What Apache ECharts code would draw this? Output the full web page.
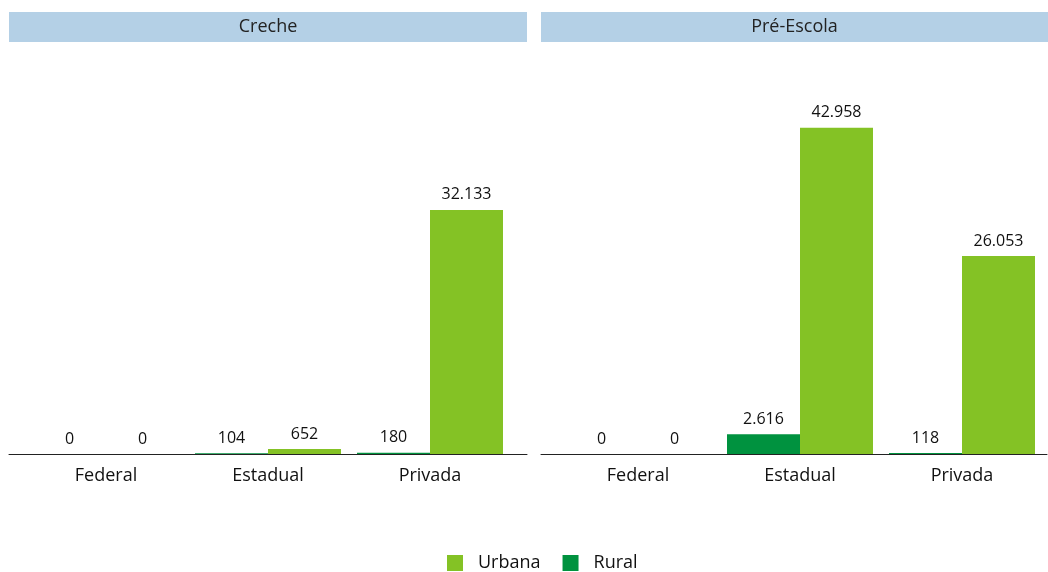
<!DOCTYPE html>
<html>
<head>
<meta charset="utf-8">
<script src="https://cdn.jsdelivr.net/npm/echarts@6/dist/echarts.min.js"></script>
<style>
  html, body { margin: 0; padding: 0; background: #fff; }
  #main { width: 1048px; height: 572px; }
</style>
</head>
<body>
<div id="main"></div>
<script>
// dados
var categorias = ["Federal", "Estadual", "Privada"];
var paineis = ["Creche", "Pré-Escola"];
var crecheRural = [0, 104, 180];
var crecheUrbana = [0, 652, 32133];
var preRural = [0, 2616, 118];
var preUrbana = [0, 42958, 26053];

var corUrbana = "#84c225";
var corRural = "#00923f";
var fonte = "'Open Sans', sans-serif";

var myChart = echarts.init(document.getElementById("main"));

function fmt(v) {
  return String(v).replace(/\B(?=(\d{3})+(?!\d))/g, ".");
}

var rotulo = {
  show: true,
  position: "top",
  distance: 7,
  color: "#111",
  fontSize: 16,
  fontFamily: fonte,
  formatter: function (p) { return fmt(p.value); }
};

function serie(nome, dados, idx, cor) {
  return {
    name: nome,
    type: "bar",
    xAxisIndex: idx,
    yAxisIndex: idx,
    data: dados,
    barWidth: 73,
    barGap: "0%",
    itemStyle: { color: cor },
    label: rotulo,
    emphasis: { disabled: true }
  };
}

var topo = 59, altura = 395;

// faixas de titulo dos paineis
var faixas = [
  { x: 9, w: 518, txt: paineis[0] },
  { x: 541, w: 507, txt: paineis[1] }
];
var graficos = [];
faixas.forEach(function (f) {
  graficos.push({
    type: "rect",
    shape: { x: f.x, y: 12, width: f.w, height: 30 },
    style: { fill: "#b4d0e6" },
    silent: true
  });
  graficos.push({
    type: "text",
    x: f.x + f.w / 2,
    y: 27,
    style: {
      text: f.txt, fill: "#222", font: "18px " + fonte,
      textAlign: "center", textVerticalAlign: "middle"
    },
    silent: true
  });
});

var eixoCat = function (g) {
  return {
    type: "category", gridIndex: g, data: categorias,
    axisLine: { show: false }, axisTick: { show: false },
    axisLabel: { color: "#111", fontSize: 18, fontFamily: fonte, margin: 13 }
  };
};
var eixoVal = function (g) {
  return {
    type: "value", gridIndex: g, min: 0, max: 52000,
    show: false, splitLine: { show: false }
  };
};
// eixos só para a linha de base mais larga
var eixoBase = function (g) {
  return {
    type: "value", gridIndex: g, min: 0, max: 1,
    axisLine: { show: true, lineStyle: { color: "#222", width: 1 } },
    axisTick: { show: false }, axisLabel: { show: false }, splitLine: { show: false }
  };
};

myChart.setOption({
  animation: false,
  textStyle: { fontFamily: fonte },
  grid: [
    { left: 25, width: 486, top: topo, height: altura },
    { left: 557, width: 486, top: topo, height: altura },
    { left: 9, width: 518, top: topo, height: altura },
    { left: 541, width: 506, top: topo, height: altura }
  ],
  xAxis: [eixoCat(0), eixoCat(1), eixoBase(2), eixoBase(3)],
  yAxis: [eixoVal(0), eixoVal(1),
    { type: "value", gridIndex: 2, show: false },
    { type: "value", gridIndex: 3, show: false }],
  legend: {
    data: ["Urbana", "Rural"],
    left: 447,
    top: 554,
    padding: 0,
    itemWidth: 16,
    itemHeight: 16,
    itemGap: 22,
    icon: "rect",
    textStyle: { color: "#111", fontSize: 18, fontFamily: fonte, padding: [0, 0, 0, 10] }
  },
  graphic: graficos,
  series: [
    serie("Rural", crecheRural, 0, corRural),
    serie("Urbana", crecheUrbana, 0, corUrbana),
    serie("Rural", preRural, 1, corRural),
    serie("Urbana", preUrbana, 1, corUrbana)
  ]
});
</script>
</body>
</html>
